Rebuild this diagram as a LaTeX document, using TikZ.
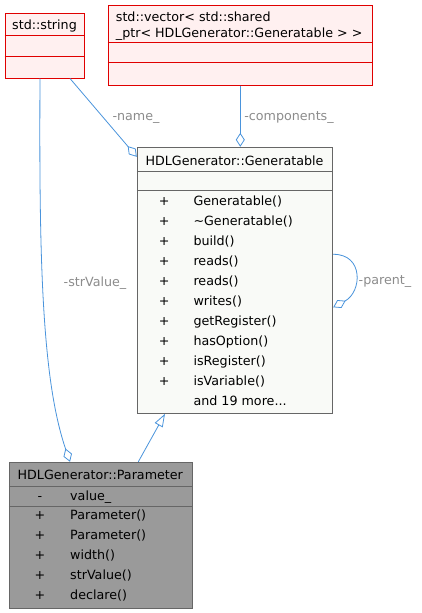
\documentclass[tikz,border=0pt]{standalone}
\usepackage{fontspec}
\setmainfont{DejaVu Sans}
\usetikzlibrary{arrows.meta, calc}
\definecolor{EdgeBlue}{HTML}{4A94DC}
\definecolor{ExtFill}{HTML}{FFF0F0}
\definecolor{ExtLine}{HTML}{E00000}
\definecolor{Dark}{HTML}{666666}
\definecolor{ParFill}{HTML}{9A9A9A}
\definecolor{GenFill}{HTML}{F9FAF7}
\definecolor{LabelGray}{HTML}{8C8C8C}
\tikzset{
  dox/.style={font=\fontsize{12.7}{16}\selectfont, inner sep=0pt},
  extbox/.style={draw=ExtLine, fill=ExtFill, line width=1pt, inner sep=0pt},
  classbox/.style={draw=Dark, line width=1pt, inner sep=0pt},
  rowtext/.style={dox, anchor=base west},
  rowsym/.style={dox, anchor=base},
  edgelabel/.style={dox, anchor=base, text=LabelGray},
  uses/.style={draw=EdgeBlue, line width=0.8pt,
               -{Diamond[open, length=14pt, width=9pt]}},
  inherits/.style={draw=EdgeBlue, line width=0.8pt,
                   -{Triangle[open, length=13pt, width=9pt]}}
}

\begin{document}
\begin{tikzpicture}[x=1pt, y=-1pt]
    \fill[white] (0,0) rectangle (421,613);

    \node[extbox, minimum width=79pt, minimum height=65pt] (str) at (44.5,45.5) {};
    \foreach \d in {23,44}
        \draw[ExtLine, line width=1pt] ($(str.north west)+(0,\d)$) -- ($(str.north east)+(0,\d)$);
    \node[dox, anchor=base] (strtitle) at (44.5,29.5) {std::string};

    \node[extbox, minimum width=264pt, minimum height=80pt] (vec) at (240.3,45.2) {};
    \foreach \d in {37.3,57.3}
        \draw[ExtLine, line width=1pt] ($(vec.north west)+(0,\d)$) -- ($(vec.north east)+(0,\d)$);
    \node[rowtext] (vectitlea) at (115.7,21.5) {std::vector< std::shared};
    \node[rowtext] (vectitleb) at (115.7,37.2) {\_ptr< HDLGenerator::Generatable > >};

    \node[classbox, fill=GenFill, minimum width=195.4pt, minimum height=266pt] (gen) at (235,280.3) {};
    \foreach \d in {24.4,43.7}
        \draw[Dark, line width=1pt] ($(gen.north west)+(0,\d)$) -- ($(gen.north east)+(0,\d)$);
    \node[dox, anchor=base] (gentitle) at (234.5,165.2) {HDLGenerator::Generatable};
    \foreach \m [count=\i] in {Generatable(), \textasciitilde Generatable(), build(), reads(), reads(),
                               writes(), getRegister(), hasOption(), isRegister(), isVariable()} {
        \pgfmathsetmacro\yy{185+20*\i}
        \node[rowsym] (gensym\i) at (164.3,\yy) {+};
        \node[rowtext] (genop\i) at (193.3,\yy) {\m};
    }
    \node[rowtext] (genmore) at (193.3,405) {and 19 more...};

    \node[classbox, fill=ParFill, minimum width=183pt, minimum height=146pt] (par) at (100.8,535.3) {};
    \foreach \d in {24.4,44.4}
        \draw[Dark, line width=1pt] ($(par.north west)+(0,\d)$) -- ($(par.north east)+(0,\d)$);
    \node[dox, anchor=base] (partitle) at (100.3,479.5) {HDLGenerator::Parameter};
    \node[rowsym] (parsym0) at (40,500.2) {-};
    \node[rowtext] (parattr) at (70,500.2) {value\_};
    \foreach \m [count=\i] in {Parameter(), Parameter(), width(), strValue(), declare()} {
        \pgfmathsetmacro\yy{499.5+20*\i}
        \node[rowsym] (parsym\i) at (40,\yy) {+};
        \node[rowtext] (parop\i) at (70,\yy) {\m};
    }

    \draw[uses] ($(str.south)+(-4.5,0)$) .. controls (39,260) and (42,380) .. ($(par.north)+(-30.8,0)$);
    \draw[uses] ($(str.south)+(25.5,0)$) -- ($(gen.north west)+(0,10)$);
    \draw[uses] (vec.south) -- (vec.south |- gen.north);
    \draw[uses] ($(gen.east)+(0,-26)$) .. controls (364,254) and (362,292) .. ($(gen.east)+(0,27)$);
    \draw[inherits] ($(par.north)+(37.5,0)$) -- ($(gen.south)+(-70,0)$);

    \node[edgelabel] (lblstrvalue) at (95,286) {-strValue\_};
    \node[edgelabel] (lblname) at (136,120) {-name\_};
    \node[edgelabel] (lblcomponents) at (289,120.5) {-components\_};
    \node[edgelabel] (lblparent) at (385,284.5) {-parent\_};
\end{tikzpicture}
\end{document}
